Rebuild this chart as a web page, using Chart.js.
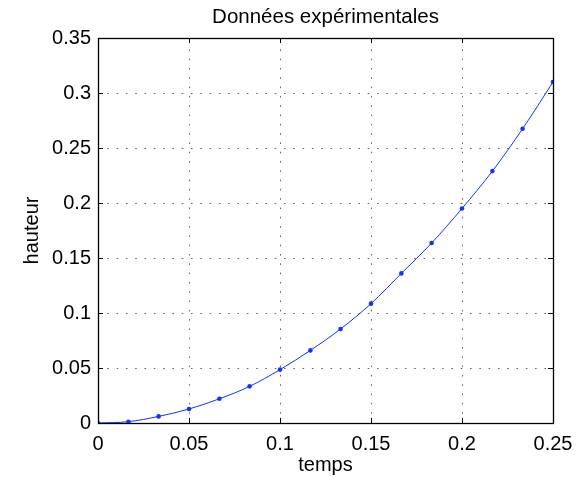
<!DOCTYPE html>
<html>
<head>
<meta charset="utf-8">
<script src="https://cdn.jsdelivr.net/npm/chart.js@4.4.0/dist/chart.umd.min.js"></script>
<style>
body{margin:0;background:#fff}
#wrap{width:576px;height:477px;position:relative}
</style>
</head>
<body>
<div id="wrap"><canvas id="myChart"></canvas></div>
<script>
const temps = [0, 0.0167, 0.0333, 0.05, 0.0667, 0.0833, 0.1, 0.1167, 0.1333, 0.15, 0.1667, 0.1833, 0.2, 0.2167, 0.2333, 0.25];
const hauteur = [0, 0.0012, 0.006, 0.0127, 0.022, 0.0333, 0.0485, 0.066, 0.0855, 0.1085, 0.136, 0.1636, 0.195, 0.229, 0.2675, 0.31];
const xTicks = [0, 0.05, 0.1, 0.15, 0.2, 0.25];
const yTicks = [0, 0.05, 0.1, 0.15, 0.2, 0.25, 0.3, 0.35];

const titre = 'Données expérimentales';
const labelX = 'temps';
const labelY = 'hauteur';

const fontName = "'Liberation Sans', Arial, Helvetica, sans-serif";
const blue = 'rgb(20,50,255)';

// grille en pointillés (dessinée à la main, sous la courbe)
const gridPlugin = {
    id: 'dotgrid',
    beforeDatasetsDraw(chart) {
        const c = chart.ctx;
        const a = chart.chartArea;
        const xs = chart.scales.x, ys = chart.scales.y;
        c.save();
        c.strokeStyle = '#666';
        c.lineWidth = 1;
        c.setLineDash([1.6, 7.7]);
        c.beginPath();
        for (const t of xTicks.slice(1, -1)) {
            const px = Math.round(xs.getPixelForValue(t)) + 0.5;
            c.moveTo(px, a.bottom); c.lineTo(px, a.top);
        }
        for (const t of yTicks.slice(1, -1)) {
            const py = Math.round(ys.getPixelForValue(t)) + 0.5;
            c.moveTo(a.left, py); c.lineTo(a.right, py);
        }
        c.stroke();
        c.restore();
    }
};

// cadre + petites graduations vers l'intérieur, comme matlab
const boxPlugin = {
    id: 'box',
    afterDraw(chart) {
        const c = chart.ctx;
        const a = chart.chartArea;
        const xs = chart.scales.x, ys = chart.scales.y;
        c.save();
        c.strokeStyle = '#000';
        c.lineWidth = 1;
        c.beginPath();
        for (const t of xTicks) {
            const px = Math.round(xs.getPixelForValue(t)) + 0.5;
            c.moveTo(px, a.bottom); c.lineTo(px, a.bottom - 5);
            c.moveTo(px, a.top); c.lineTo(px, a.top + 5);
        }
        for (const t of yTicks) {
            const py = Math.round(ys.getPixelForValue(t)) + 0.5;
            c.moveTo(a.left, py); c.lineTo(a.left + 5, py);
            c.moveTo(a.right, py); c.lineTo(a.right - 5, py);
        }
        c.stroke();
        c.lineWidth = 1.3;
        c.strokeRect(Math.round(a.left) + 0.5, Math.round(a.top) + 0.5, Math.round(a.right - a.left), Math.round(a.bottom - a.top));
        // titre et noms des axes
        c.fillStyle = '#000';
        c.textAlign = 'center';
        c.textBaseline = 'alphabetic';
        c.font = '20.5px ' + fontName;
        c.fillText(titre, (a.left + a.right) / 2, 23);
        c.font = '20px ' + fontName;
        c.fillText(labelX, (a.left + a.right) / 2, 471);
        c.translate(38, (a.top + a.bottom) / 2);
        c.rotate(-Math.PI / 2);
        c.fillText(labelY, 0, 0);
        c.restore();
    }
};

const ctx = document.getElementById('myChart');

new Chart(ctx, {
    type: 'line',
    data: {
        datasets: [{
            data: temps.map((t, i) => ({ x: t, y: hauteur[i] })),
            borderColor: blue,
            backgroundColor: blue,
            borderWidth: 1,
            pointRadius: 2.3,
            pointHoverRadius: 2.3,
            pointBorderWidth: 0,
            cubicInterpolationMode: 'monotone',
            fill: false
        }]
    },
    options: {
        responsive: true,
        maintainAspectRatio: false,
        animation: false,
        events: [],
        layout: { padding: { top: 38, right: 23, left: 0, bottom: 0 } },
        plugins: {
            legend: { display: false },
            title: { display: false },
            tooltip: { enabled: false }
        },
        scales: {
            x: {
                type: 'linear',
                min: 0,
                max: 0.25,
                afterFit(scale) {
                    scale.height = 54;
                    scale.paddingLeft = 0;
                    scale.paddingRight = 0;
                },
                afterBuildTicks(scale) { scale.ticks = xTicks.map(v => ({ value: v })); },
                border: { display: false },
                grid: { display: false, drawTicks: false },
                ticks: {
                    color: '#000',
                    padding: 9,
                    maxRotation: 0,
                    font: { family: fontName, size: 20 },
                    callback: v => String(+v.toFixed(2))
                }
            },
            y: {
                type: 'linear',
                min: 0,
                max: 0.35,
                afterFit(scale) {
                    scale.width = 98;
                    scale.paddingTop = 0;
                    scale.paddingBottom = 0;
                },
                afterBuildTicks(scale) { scale.ticks = yTicks.map(v => ({ value: v })); },
                border: { display: false },
                grid: { display: false, drawTicks: false },
                ticks: {
                    color: '#000',
                    padding: 7,
                    font: { family: fontName, size: 20 },
                    callback: v => String(+v.toFixed(2))
                }
            }
        }
    },
    plugins: [gridPlugin, boxPlugin]
});
</script>
</body>
</html>
